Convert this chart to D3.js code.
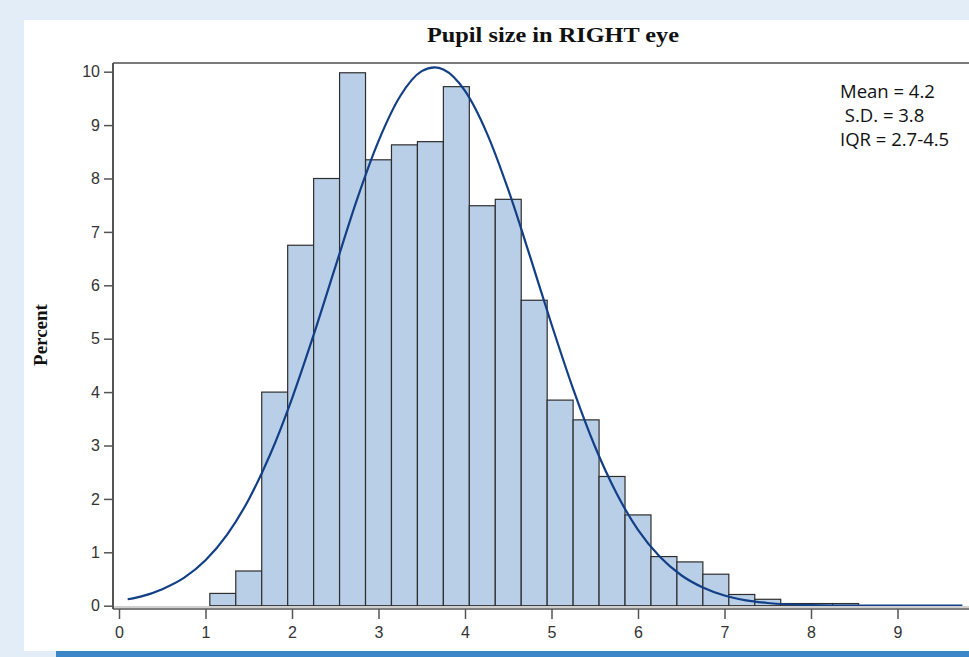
<!DOCTYPE html>
<html>
<head>
<meta charset="utf-8">
<script src="https://cdn.jsdelivr.net/npm/d3@7"></script>
<style>
  html, body { margin: 0; padding: 0; background: #e3edf7; }
  svg { display: block; }
</style>
</head>
<body>
<div id="chart"></div>
<script>
// Pupil size histogram with normal curve

// bin midpoints (bin width 0.3) and percent in each bin
var binMids = [1.2, 1.5, 1.8, 2.1, 2.4, 2.7, 3.0, 3.3, 3.6, 3.9, 4.2, 4.5, 4.8,
               5.1, 5.4, 5.7, 6.0, 6.3, 6.6, 6.9, 7.2, 7.5, 7.8, 8.1, 8.4];
var binPercent = [0.23, 0.65, 4.0, 6.75, 8.0, 9.98, 8.35, 8.63, 8.69, 9.72, 7.49, 7.61, 5.72,
                  3.85, 3.48, 2.42, 1.70, 0.92, 0.82, 0.59, 0.21, 0.12, 0.04, 0.04, 0.04];
var binWidth = 0.3;

// fitted curve
var curveX = [0.1, 0.25, 0.5, 0.75, 1.0, 1.25, 1.5, 1.75, 2.0, 2.25, 2.5, 2.75, 3.0, 3.25, 3.5, 3.65,
              3.75, 4.0, 4.25, 4.5, 4.75, 5.0, 5.25, 5.5, 5.75, 6.0, 6.25, 6.5, 6.75, 7.0, 7.25, 7.5,
              8.0, 8.5, 9.0, 9.75];
var curveY = [0.12, 0.17, 0.31, 0.52, 0.85, 1.33, 1.99, 2.84, 3.88, 5.07, 6.34, 7.60, 8.70, 9.54, 10.01, 10.08,
              10.04, 9.64, 8.86, 7.79, 6.55, 5.27, 4.06, 2.99, 2.11, 1.42, 0.92, 0.57, 0.34, 0.19, 0.10, 0.05,
              0.01, 0.0, 0.0, 0.0];

var xTicks = [0, 1, 2, 3, 4, 5, 6, 7, 8, 9];
var yTicks = [0, 1, 2, 3, 4, 5, 6, 7, 8, 9, 10];
var statLines = ["Mean = 4.2", " S.D. = 3.8", "IQR = 2.7-4.5"];

var width = 969;
var height = 657;

var svg = d3.select("#chart")
    .append("svg")
    .attr("width", width)
    .attr("height", height);

// page background + white panel + blue strip at bottom
svg.append("rect").attr("width", width).attr("height", height).attr("fill", "#e3edf7");
svg.append("rect").attr("x", 24).attr("y", 20).attr("width", width - 24).attr("height", 631).attr("fill", "#ffffff");
svg.append("rect").attr("x", 56).attr("y", 651).attr("width", width - 56).attr("height", 6).attr("fill", "#3a86c6");

var x = d3.scaleLinear().domain([0, 9]).range([119, 897.5]);
var y = d3.scaleLinear().domain([0, 10]).range([605.7, 71.7]);

var frameLeft = 113, frameTop = 63, frameBottom = 609;

// bars
svg.append("g")
    .selectAll("rect")
    .data(binMids)
    .enter()
    .append("rect")
    .attr("x", function(d) { return x(d - binWidth / 2); })
    .attr("y", function(d, i) { return y(binPercent[i]); })
    .attr("width", function(d) { return x(d + binWidth / 2) - x(d - binWidth / 2); })
    .attr("height", function(d, i) { return y(0) - y(binPercent[i]); })
    .attr("fill", "#b9cfe8")
    .attr("stroke", "#2e2e2e")
    .attr("stroke-width", 1.2);

// normal curve
var line = d3.line()
    .x(function(d) { return x(d[0]); })
    .y(function(d) { return y(d[1]); })
    .curve(d3.curveMonotoneX);

svg.append("path")
    .datum(curveX.map(function(v, i) { return [v, curveY[i]]; }))
    .attr("d", line)
    .attr("fill", "none")
    .attr("stroke", "#123f86")
    .attr("stroke-width", 2.2);

// frame
svg.append("line").attr("x1", frameLeft).attr("x2", width).attr("y1", frameTop).attr("y2", frameTop)
    .attr("stroke", "#7a7a7a").attr("stroke-width", 2);
svg.append("line").attr("x1", frameLeft).attr("x2", width).attr("y1", 607).attr("y2", 607)
    .attr("stroke", "#d0d0d0").attr("stroke-width", 2);
svg.append("line").attr("x1", frameLeft).attr("x2", width).attr("y1", frameBottom).attr("y2", frameBottom)
    .attr("stroke", "#555555").attr("stroke-width", 1.5);
svg.append("line").attr("x1", frameLeft).attr("x2", frameLeft).attr("y1", frameTop).attr("y2", frameBottom)
    .attr("stroke", "#555555").attr("stroke-width", 2);

// y axis
var yAxis = svg.append("g").attr("transform", "translate(" + frameLeft + ",0)")
    .call(d3.axisLeft(y).tickValues(yTicks).tickSize(9).tickPadding(4));
yAxis.select(".domain").remove();
yAxis.selectAll(".tick line").attr("stroke", "#555").attr("stroke-width", 1.5);
yAxis.selectAll(".tick text")
    .attr("fill", "#333")
    .style("font-family", "'Liberation Sans', Arial, sans-serif")
    .style("font-size", "16px");

// x axis
var xAxis = svg.append("g").attr("transform", "translate(0," + frameBottom + ")")
    .call(d3.axisBottom(x).tickValues(xTicks).tickSize(10).tickPadding(8));
xAxis.select(".domain").remove();
xAxis.selectAll(".tick line").attr("stroke", "#555").attr("stroke-width", 1.5);
xAxis.selectAll(".tick text")
    .attr("fill", "#333")
    .style("font-family", "'Liberation Sans', Arial, sans-serif")
    .style("font-size", "16px");

// title
svg.append("text")
    .attr("x", 553)
    .attr("y", 42)
    .attr("text-anchor", "middle")
    .attr("textLength", 252)
    .attr("lengthAdjust", "spacingAndGlyphs")
    .style("font-family", "'Liberation Serif', 'Times New Roman', serif")
    .style("font-weight", "bold")
    .style("font-size", "20px")
    .attr("fill", "#111")
    .text("Pupil size in RIGHT eye");

// y label
svg.append("text")
    .attr("transform", "translate(47,335) rotate(-90)")
    .attr("text-anchor", "middle")
    .style("font-family", "'Liberation Serif', 'Times New Roman', serif")
    .style("font-weight", "bold")
    .style("font-size", "19px")
    .attr("fill", "#111")
    .text("Percent");

// stats box text
svg.append("g")
    .selectAll("text")
    .data(statLines)
    .enter()
    .append("text")
    .attr("x", 840)
    .attr("y", function(d, i) { return 98 + i * 24; })
    .attr("xml:space", "preserve")
    .style("white-space", "pre")
    .style("font-family", "'Open Sans', sans-serif")
    .style("font-size", "18.5px")
    .attr("fill", "#111")
    .text(function(d) { return d; });
</script>
</body>
</html>
